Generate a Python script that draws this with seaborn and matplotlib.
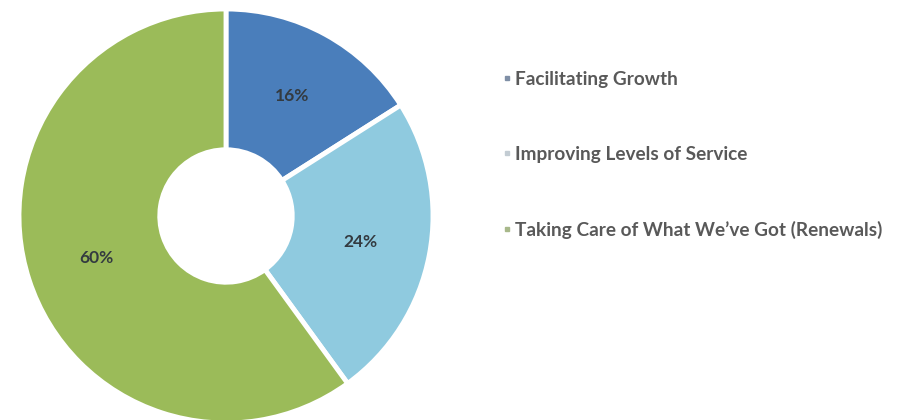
import matplotlib
matplotlib.use("Agg")
import matplotlib.pyplot as plt
from matplotlib.lines import Line2D
import seaborn as sns

# Capital investment split by programme
categories = [
    "Facilitating Growth",
    "Improving Levels of Service",
    "Taking Care of What We\u2019ve Got (Renewals)",
]
shares = [16, 24, 60]
colors = ["#4a7ebb", "#8fcadf", "#9bbb59"]

sns.set_theme(style="white")
plt.rcParams["font.family"] = ["Lato", "DejaVu Sans"]

W, H = 901, 420
fig = plt.figure(figsize=(W / 100, H / 100), dpi=100)

# Donut: centre (226, 216) px from top-left, outer radius 207 px
cx, cy, r = 226, 216, 207
ax = fig.add_axes([(cx - r) / W, (H - cy - r) / H, 2 * r / W, 2 * r / H])
wedges, texts, autotexts = ax.pie(
    shares,
    colors=colors,
    startangle=90,
    counterclock=False,
    radius=1.0,
    autopct="%d%%",
    pctdistance=0.66,
    wedgeprops=dict(width=0.68, edgecolor="white", linewidth=3.5),
    textprops=dict(color="#333a40", fontsize=12.5, fontweight="bold"),
)
ax.set_xlim(-1, 1)
ax.set_ylim(-1, 1)
ax.set_aspect("equal")
ax.axis("off")

handles = [
    Line2D([0], [0], marker="s", linestyle="none", markersize=3,
           markerfacecolor=c, markeredgecolor=c)
    for c in ["#7f8fa6", "#c3ccd3", "#a8b88a"]
]
fig.legend(
    handles, categories,
    loc="upper left",
    bbox_to_anchor=(493.5 / W, 1 - 61 / H),
    frameon=False,
    handlelength=0.4,
    handletextpad=0.25,
    labelspacing=3.05,
    borderpad=0,
    prop=dict(size=13.7, weight="bold"),
    labelcolor="#595959",
)

fig.savefig("out.png", dpi=100, facecolor="white")
